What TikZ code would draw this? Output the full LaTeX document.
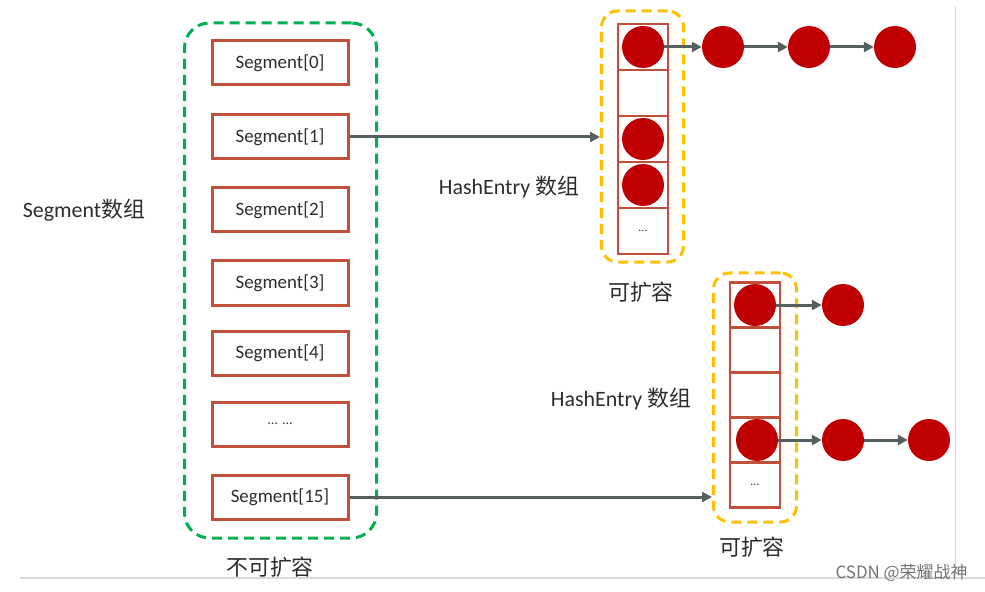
\documentclass[tikz,border=0pt]{standalone}
\usepackage{fontspec}
\setmainfont{Carlito}
\newfontfamily\cjk{Noto Sans CJK SC}
\usetikzlibrary{arrows.meta}
\definecolor{segred}{RGB}{192,80,57}
\definecolor{dotred}{RGB}{192,0,0}
\definecolor{grn}{RGB}{0,176,80}
\definecolor{ylw}{RGB}{255,192,0}
\definecolor{arr}{RGB}{85,95,95}
\definecolor{txt}{RGB}{45,45,45}
\begin{document}
\begin{tikzpicture}[x=1bp,y=-1bp,
 seg/.style={draw=segred, line width=3bp, minimum width=136bp, minimum height=44bp, inner sep=0, font=\fontsize{19}{22}\selectfont, text=txt},
 cell/.style={draw=segred, line width=2.6bp, minimum width=50bp, minimum height=46bp, inner sep=0},
 lcell/.style={cell, minimum height=45bp},
 dot/.style={circle, fill=dotred, minimum size=42bp, inner sep=0},
 link/.style={draw=arr, line width=3bp, -{Triangle[length=10bp,width=10bp]}},
 lbl/.style={text=txt, font=\fontsize{22}{26}\selectfont},
 gbox/.style={draw=grn, line width=3bp, dash pattern=on 10bp off 6bp, rounded corners=25bp, inner sep=0},
 ybox/.style={draw=ylw, line width=3bp, dash pattern=on 10bp off 6bp, rounded corners=16bp, inner sep=0},
 dots/.style={text=txt, font=\fontsize{12}{13}\selectfont},
]
\useasboundingbox (0,0) rectangle (985,592);
% frame lines
\draw[black!15, line width=1.5bp] (20,578) -- (985,578);
\draw[black!15, line width=1bp] (955,6) -- (955,578);

% green group
\node[gbox, minimum width=192bp, minimum height=515bp] (g) at (280.5,280.5) {};
\node[seg] (s0) at (280,63) {Segment[0]};
\node[seg] (s1) at (280,137) {Segment[1]};
\node[seg] (s2) at (280,210) {Segment[2]};
\node[seg] (s3) at (280,283) {Segment[3]};
\node[seg] (s4) at (280,353) {Segment[4]};
\node[seg] (s5) at (280,424) {\fontsize{14}{15}\selectfont ... ...};
\node[seg] (s15) at (280,497) {Segment[15]};
\node[lbl] (lg) at (270,567) {\cjk 不可扩容};
\node[lbl] (ls) at (84,210) {Segment{\cjk 数组}};

% upper HashEntry array
\node[ybox, minimum width=82bp, minimum height=251bp] (ya) at (642.5,136.5) {};
\node[cell] (a0) at (643,47) {};
\node[cell] (a1) at (643,93) {};
\node[cell] (a2) at (643,139) {};
\node[cell] (a3) at (643,185) {};
\node[cell] (a4) at (643,231) {};
\node[dots] at (a4) {...};
\node[dot] (p0) at (643,47) {};
\node[dot] (p2) at (643,139) {};
\node[dot] (p3) at (643,185) {};
\node[dot] (q1) at (723,47) {};
\node[dot] (q2) at (809,47) {};
\node[dot] (q3) at (895,47) {};
\draw[link] (p0) -- (q1);
\draw[link] (q1) -- (q2);
\draw[link] (q2) -- (q3);
\node[lbl] (ha) at (509,187) {HashEntry {\cjk 数组}};
\node[lbl] (ka) at (641,292) {\cjk 可扩容};

% lower HashEntry array
\node[ybox, minimum width=83bp, minimum height=249bp] (yb) at (755,397.5) {};
\node[lcell] (b0) at (755,305) {};
\node[lcell] (b1) at (755,350) {};
\node[lcell] (b2) at (755,395) {};
\node[lcell] (b3) at (755,440) {};
\node[lcell] (b4) at (755,485) {};
\node[dots] at (b4) {...};
\node[dot] (r0) at (755,305) {};
\node[dot] (r3) at (757,440) {};
\node[dot] (t1) at (843,305) {};
\node[dot] (u1) at (843,440) {};
\node[dot] (u2) at (929,440) {};
\draw[link] (r0) -- (t1);
\draw[link] (r3) -- (u1);
\draw[link] (u1) -- (u2);
\node[lbl] (hb) at (621,399) {HashEntry {\cjk 数组}};
\node[lbl] (kb) at (752,547) {\cjk 可扩容};

% segment to arrays
\draw[link] (s1.east) -- (s1.east -| ya.west);
\draw[link] (s15.east) -- (s15.east -| yb.west);

% watermark
\node[text=black!55, font=\cjk\fontsize{17}{20}\selectfont, anchor=east] (wm) at (971,573) {CSDN @荣耀战神};
\end{tikzpicture}
\end{document}
